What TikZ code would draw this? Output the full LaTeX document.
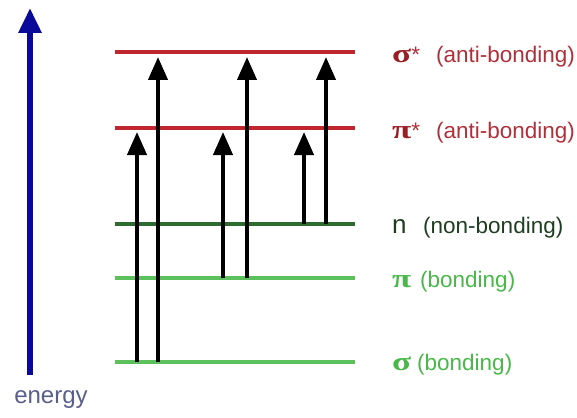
\documentclass[tikz,border=0pt]{standalone}
\usepackage{fontspec}
\setmainfont{Liberation Sans}
\newfontfamily\greekfont{Liberation Serif}
\usetikzlibrary{arrows.meta}
\definecolor{antired}{HTML}{C0262E}
\definecolor{antitext}{HTML}{B0303A}
\definecolor{antigreek}{HTML}{9A1E24}
\definecolor{nongreen}{HTML}{2E6B30}
\definecolor{nontext}{HTML}{1E3E20}
\definecolor{bondgreen}{HTML}{5CC05C}
\definecolor{bondtext}{HTML}{48B848}
\definecolor{energyblue}{HTML}{0A0A9A}
\definecolor{energytext}{HTML}{5A5E8A}
\newcommand{\grk}[1]{\scalebox{1.35}[1]{\greekfont\bfseries\fontsize{26}{26}\selectfont #1}}
\tikzset{
  level/.style={line width=3.5pt},
  trans/.style={line width=4pt, -{Triangle[length=23pt,width=19pt]}},
  lbl/.style={anchor=west, inner sep=0pt, font=\fontsize{22.5}{25}\selectfont},
}
\begin{document}
\begin{tikzpicture}[x=1pt,y=-1pt]
\useasboundingbox (0,0) rectangle (577,417);
% levels
\coordinate (L1) at (115,52);  \coordinate (R1) at (355,52);
\coordinate (L2) at (115,128); \coordinate (R2) at (355,128);
\coordinate (L3) at (115,224); \coordinate (R3) at (355,224);
\coordinate (L4) at (115,278); \coordinate (R4) at (355,278);
\coordinate (L5) at (115,362); \coordinate (R5) at (355,362);
\draw[level, antired] (L1) -- (R1);
\draw[level, antired] (L2) -- (R2);
\draw[level, nongreen] (L3) -- (R3);
\draw[level, bondgreen] (L4) -- (R4);
\draw[level, bondgreen] (L5) -- (R5);
% arrow tips
\coordinate (tS) at (0,57);
\coordinate (tP) at (0,132);
% arrow feet
\coordinate (a1) at (137,362);
\coordinate (a2) at (158,362);
\coordinate (a3) at (223,278);
\coordinate (a4) at (247,278);
\coordinate (a5) at (304,224);
\coordinate (a6) at (326,224);
\draw[trans] (a1) -- (a1 |- tP);
\draw[trans] (a2) -- (a2 |- tS);
\draw[trans] (a3) -- (a3 |- tP);
\draw[trans] (a4) -- (a4 |- tS);
\draw[trans] (a5) -- (a5 |- tP);
\draw[trans] (a6) -- (a6 |- tS);
% labels
\node[lbl, text=antitext] (t1) at (392,57) {\makebox[44pt][l]{\textcolor{antigreek}{\grk{σ}}*}(anti-bonding)};
\node[lbl, text=antitext] (t2) at (392,133) {\makebox[44pt][l]{\textcolor{antigreek}{\grk{π}}*}(anti-bonding)};
\node[lbl, text=nontext] (t3) at (392,228) {\makebox[31pt][l]{\fontsize{26}{26}\selectfont n}(non-bonding)};
\node[lbl, text=bondtext] (t4) at (392,282) {\makebox[28pt][l]{\grk{π}}(bonding)};
\node[lbl, text=bondtext] (t5) at (392,365) {\makebox[25pt][l]{\grk{σ}}(bonding)};
% energy axis
\coordinate (e0) at (30,375);
\coordinate (e1) at (30,8);
\draw[energyblue, line width=6pt, -{Triangle[length=25pt,width=22pt]}] (e0) -- (e1);
\node[anchor=base, inner sep=0pt, text=energytext, font=\fontsize{24}{26}\selectfont] (en) at (51,403) {energy};
\end{tikzpicture}
\end{document}
